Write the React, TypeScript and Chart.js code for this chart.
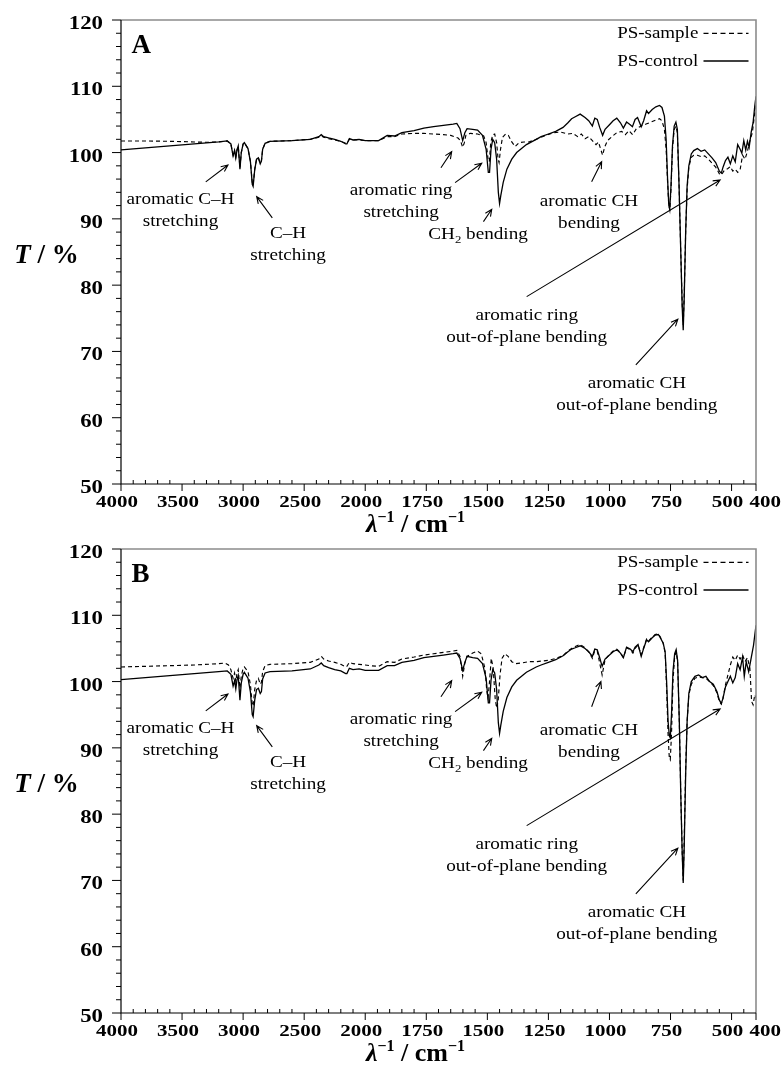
import React, { useEffect, useRef } from "react";
import { Chart, registerables } from "chart.js";

Chart.register(...registerables);

// ---------------- DATA ----------------
// x tick labels (wavenumber, cm-1) and y tick labels (T, %)
const X_TICK_VALUES = [4000, 3500, 3000, 2500, 2000, 1750, 1500, 1250, 1000, 750, 500, 400];
const Y_TICK_VALUES = [50, 60, 70, 80, 90, 100, 110, 120];

// Panel A: [wavenumber, T%]
const A_CONTROL: [number, number][] = [
  [4000, 100.4], [3800, 100.7], [3600, 101.0], [3400, 101.3], [3200, 101.6], [3130, 101.75], [3100, 101.3], [3090, 100.3], [3082, 99.5], [3070, 100.3],
  [3060, 99.2], [3050, 100.4], [3040, 101.0], [3026, 97.5], [3015, 100.0], [3000, 101.3], [2990, 101.5], [2960, 100.6], [2940, 98.6], [2925, 95.2],
  [2918, 94.9], [2905, 97.4], [2890, 99.0], [2875, 99.2], [2860, 98.3], [2850, 98.7], [2840, 100.5], [2820, 101.4], [2780, 101.7], [2600, 101.8],
  [2450, 102.0], [2380, 102.4], [2360, 102.7], [2340, 102.4], [2300, 102.2], [2250, 102.0], [2200, 101.7], [2160, 101.3], [2150, 101.3], [2130, 102.1],
  [2100, 101.9], [2050, 102.0], [2000, 101.8], [1980, 101.8], [1945, 101.8], [1910, 102.6], [1880, 102.5], [1850, 103.0], [1800, 103.3], [1760, 103.7],
  [1720, 103.9], [1680, 104.1], [1640, 104.3], [1625, 104.4], [1612, 103.6], [1601, 101.8], [1592, 103.0], [1583, 103.6], [1560, 103.5], [1540, 103.4],
  [1520, 102.6], [1505, 100.5], [1496, 97.0], [1491, 97.0], [1485, 100.5], [1478, 102.0], [1470, 101.5], [1462, 99.0], [1455, 94.0], [1450, 92.3],
  [1445, 93.5], [1435, 95.5], [1420, 97.5], [1400, 99.0], [1380, 100.0], [1360, 100.6], [1340, 101.2], [1300, 102.0], [1280, 102.4], [1250, 102.8],
  [1220, 103.2], [1190, 103.8], [1170, 104.5], [1155, 105.1], [1140, 105.4], [1120, 105.8], [1100, 105.3], [1085, 104.8], [1070, 104.0], [1060, 105.2],
  [1050, 105.0], [1040, 103.8], [1028, 102.6], [1018, 103.5], [1000, 104.2], [985, 104.8], [970, 105.2], [955, 104.5], [943, 103.7], [930, 104.6],
  [915, 104.2], [906, 103.9], [895, 105.0], [885, 105.3], [870, 103.9], [860, 104.8], [848, 106.3], [840, 105.9], [825, 106.5], [810, 106.9],
  [795, 107.1], [785, 106.8], [775, 105.5], [768, 102.0], [762, 96.0], [757, 92.0], [753, 91.6], [748, 95.0], [742, 101.0], [735, 104.0],
  [728, 104.6], [722, 103.5], [715, 95.0], [708, 85.0], [702, 76.5], [698, 73.2], [694, 78.0], [688, 88.0], [682, 95.0], [675, 98.0],
  [665, 99.8], [655, 100.3], [640, 100.6], [625, 100.2], [610, 100.4], [595, 99.8], [580, 99.2], [565, 98.5], [550, 97.2], [542, 96.9],
  [535, 97.8], [525, 98.8], [515, 99.3], [505, 98.3], [495, 99.5], [485, 98.6], [475, 101.2], [465, 100.5], [458, 99.9], [450, 101.8],
  [442, 100.4], [435, 101.7], [428, 100.8], [420, 103.0], [412, 104.5], [405, 107.0], [400, 108.5],
];

const A_SAMPLE: [number, number][] = [
  [4000, 101.75], [3800, 101.75], [3600, 101.7], [3400, 101.6], [3300, 101.55], [3200, 101.6], [3130, 101.75], [3100, 101.3], [3090, 100.3], [3082, 99.6],
  [3070, 100.3], [3060, 99.3], [3050, 100.4], [3040, 101.0], [3026, 97.7], [3015, 100.0], [3000, 101.3], [2990, 101.5], [2960, 100.6], [2940, 98.7],
  [2925, 95.4], [2918, 95.1], [2905, 97.5], [2890, 99.0], [2875, 99.2], [2860, 98.4], [2850, 98.8], [2840, 100.5], [2820, 101.4], [2780, 101.7],
  [2600, 101.8], [2450, 102.0], [2380, 102.3], [2360, 102.5], [2340, 102.3], [2300, 102.1], [2250, 101.9], [2200, 101.7], [2160, 101.4], [2150, 101.4],
  [2130, 102.0], [2100, 101.9], [2050, 101.9], [2000, 101.8], [1980, 101.8], [1945, 101.8], [1910, 102.4], [1880, 102.4], [1850, 102.8], [1800, 102.9],
  [1760, 102.9], [1720, 102.8], [1680, 102.7], [1650, 102.6], [1620, 102.2], [1610, 101.8], [1601, 100.8], [1594, 101.5], [1588, 102.6], [1570, 102.9],
  [1540, 102.8], [1515, 102.5], [1505, 101.5], [1497, 99.0], [1492, 98.6], [1486, 101.5], [1478, 102.7], [1470, 102.8], [1462, 101.5], [1456, 99.0],
  [1452, 98.5], [1446, 100.5], [1438, 102.3], [1425, 102.8], [1414, 102.6], [1400, 101.6], [1386, 100.9], [1370, 101.5], [1350, 101.6], [1330, 101.6],
  [1300, 102.0], [1260, 102.6], [1230, 103.0], [1200, 103.1], [1170, 102.8], [1150, 102.9], [1130, 102.4], [1115, 102.8], [1100, 102.1], [1085, 102.4],
  [1070, 101.8], [1055, 101.2], [1045, 101.6], [1035, 100.4], [1028, 99.6], [1020, 100.8], [1008, 101.8], [990, 102.4], [970, 103.0], [950, 103.2],
  [935, 102.7], [920, 103.3], [905, 102.7], [890, 103.6], [870, 104.0], [850, 104.3], [830, 104.6], [810, 104.9], [795, 105.1], [785, 104.8],
  [775, 103.5], [768, 100.5], [762, 95.5], [757, 92.0], [753, 91.3], [748, 94.5], [742, 100.5], [735, 103.5], [728, 104.0], [722, 103.0],
  [715, 95.0], [708, 85.0], [702, 77.0], [698, 74.0], [694, 78.5], [688, 88.0], [682, 94.5], [675, 97.8], [665, 99.3], [655, 99.6],
  [640, 99.6], [625, 99.4], [610, 99.5], [595, 99.0], [580, 98.4], [565, 97.8], [550, 96.8], [542, 96.6], [530, 97.3], [515, 97.6],
  [505, 97.9], [495, 97.2], [485, 97.5], [475, 97.0], [465, 97.4], [455, 99.6], [445, 99.0], [435, 100.2], [425, 101.8], [415, 103.0],
  [405, 106.0], [400, 108.0],
];

// Panel B: [wavenumber, T%]
const B_CONTROL: [number, number][] = [
  [4000, 100.3], [3800, 100.6], [3600, 100.9], [3400, 101.2], [3200, 101.5], [3130, 101.6], [3100, 101.1], [3090, 100.1], [3082, 99.3], [3070, 100.1],
  [3060, 98.9], [3050, 100.3], [3040, 100.9], [3026, 97.2], [3015, 99.8], [3000, 101.1], [2990, 101.4], [2960, 100.5], [2940, 98.4], [2925, 95.0],
  [2918, 94.7], [2905, 97.2], [2890, 98.8], [2875, 99.0], [2860, 98.2], [2850, 98.5], [2840, 100.4], [2820, 101.3], [2780, 101.5], [2600, 101.6],
  [2450, 101.9], [2380, 102.5], [2360, 102.8], [2340, 102.4], [2300, 102.1], [2250, 101.8], [2200, 101.6], [2160, 101.2], [2150, 101.2], [2130, 102.0],
  [2100, 101.8], [2050, 101.9], [2000, 101.7], [1980, 101.7], [1945, 101.7], [1910, 102.4], [1880, 102.4], [1850, 102.9], [1800, 103.2], [1760, 103.6],
  [1720, 103.8], [1680, 104.0], [1640, 104.2], [1625, 104.3], [1612, 103.5], [1601, 101.7], [1592, 102.9], [1583, 103.8], [1560, 103.6], [1540, 103.5],
  [1520, 102.7], [1505, 100.5], [1496, 96.8], [1491, 96.8], [1485, 100.2], [1478, 101.8], [1470, 101.3], [1462, 98.8], [1455, 93.8], [1450, 92.2],
  [1445, 93.4], [1435, 95.5], [1420, 97.6], [1400, 99.2], [1380, 100.2], [1360, 100.8], [1340, 101.4], [1300, 102.2], [1280, 102.5], [1250, 102.9],
  [1220, 103.3], [1190, 103.9], [1170, 104.5], [1155, 104.9], [1140, 105.1], [1120, 105.4], [1100, 105.0], [1085, 104.5], [1070, 103.8], [1060, 104.9],
  [1050, 104.8], [1040, 103.6], [1030, 102.3], [1018, 103.4], [1000, 104.0], [985, 104.5], [970, 104.8], [955, 104.3], [943, 103.6], [930, 105.2],
  [915, 104.9], [904, 104.5], [895, 105.2], [883, 105.6], [870, 103.8], [860, 105.0], [848, 106.3], [840, 106.0], [825, 106.6], [813, 107.0],
  [800, 107.1], [793, 106.7], [780, 105.8], [772, 104.5], [766, 100.0], [760, 94.0], [755, 91.8], [751, 91.5], [746, 95.0], [740, 101.5],
  [733, 104.2], [727, 104.8], [721, 103.2], [714, 94.0], [708, 83.0], [702, 74.0], [698, 69.6], [694, 75.0], [688, 86.0], [682, 94.0],
  [675, 98.2], [665, 100.0], [650, 100.8], [635, 101.0], [620, 100.6], [605, 100.8], [590, 100.0], [575, 99.6], [560, 98.5], [550, 97.2],
  [542, 96.7], [535, 97.5], [525, 99.2], [515, 100.0], [505, 100.8], [495, 99.8], [485, 100.6], [475, 102.7], [465, 101.8], [455, 103.7],
  [448, 100.8], [440, 103.0], [430, 101.5], [420, 103.5], [410, 105.5], [400, 108.5],
];

const B_SAMPLE: [number, number][] = [
  [4000, 102.2], [3800, 102.3], [3600, 102.4], [3400, 102.5], [3200, 102.7], [3150, 102.8], [3120, 102.5], [3100, 101.8], [3090, 101.0], [3082, 100.5],
  [3070, 101.3], [3060, 100.0], [3050, 101.3], [3040, 101.8], [3026, 99.0], [3015, 100.8], [3000, 102.0], [2990, 102.2], [2960, 101.5], [2940, 99.5],
  [2925, 96.5], [2918, 96.3], [2905, 98.8], [2890, 100.2], [2875, 100.5], [2860, 99.6], [2850, 99.9], [2840, 101.5], [2820, 102.4], [2780, 102.6],
  [2600, 102.7], [2450, 102.9], [2380, 103.4], [2360, 103.8], [2340, 103.4], [2300, 103.1], [2250, 102.9], [2200, 102.6], [2160, 102.2], [2150, 102.3],
  [2130, 102.9], [2100, 102.7], [2050, 102.6], [2000, 102.5], [1980, 102.4], [1945, 102.3], [1910, 103.0], [1880, 102.9], [1850, 103.4], [1800, 103.7],
  [1760, 104.0], [1720, 104.2], [1680, 104.4], [1640, 104.6], [1625, 104.7], [1612, 103.8], [1601, 100.8], [1592, 102.8], [1583, 103.8], [1560, 104.3],
  [1540, 104.6], [1525, 104.2], [1510, 102.0], [1502, 98.5], [1497, 97.5], [1490, 100.5], [1484, 103.5], [1476, 102.0], [1468, 97.5], [1462, 96.0],
  [1456, 97.0], [1448, 101.0], [1440, 103.5], [1428, 104.2], [1415, 103.8], [1400, 103.0], [1385, 102.7], [1360, 102.8], [1330, 103.0], [1300, 103.0],
  [1250, 103.2], [1220, 103.5], [1190, 103.9], [1170, 104.6], [1155, 105.0], [1140, 105.3], [1120, 105.6], [1100, 105.1], [1085, 104.5], [1070, 103.5],
  [1060, 104.7], [1050, 104.6], [1040, 102.8], [1030, 101.0], [1018, 103.3], [1000, 104.1], [985, 104.6], [970, 104.9], [955, 104.4], [943, 103.6],
  [930, 105.1], [915, 104.8], [904, 104.3], [895, 105.0], [883, 105.5], [870, 104.0], [860, 105.1], [848, 106.4], [840, 106.1], [825, 106.7],
  [813, 107.1], [800, 107.2], [793, 106.8], [780, 105.8], [772, 104.3], [766, 99.0], [760, 92.0], [755, 88.5], [751, 88.2], [746, 92.0],
  [740, 100.0], [733, 103.8], [727, 104.5], [721, 103.0], [714, 94.0], [708, 83.0], [702, 74.0], [698, 70.0], [694, 76.0], [688, 87.0],
  [682, 94.0], [675, 98.0], [665, 99.6], [650, 100.5], [635, 100.7], [620, 100.6], [605, 100.5], [590, 100.0], [575, 99.4], [560, 98.3],
  [550, 97.0], [542, 96.6], [535, 97.5], [525, 99.5], [515, 101.0], [505, 102.5], [495, 103.7], [485, 103.2], [475, 104.0], [465, 103.4],
  [455, 104.0], [445, 103.0], [435, 103.6], [425, 102.0], [418, 97.0], [412, 96.5], [405, 98.0], [400, 97.5],
];

// Annotation labels: text lines anchored at [wavenumber, T] (centre of first line)
const LABEL_TEXTS = [
  ["aromatic C\u2013H", "stretching"],
  ["C\u2013H", "stretching"],
  ["aromatic ring", "stretching"],
  ["CH2 bending"],
  ["aromatic CH", "bending"],
  ["aromatic ring", "out-of-plane bending"],
  ["aromatic CH", "out-of-plane bending"],
];
const LABEL_ANCHORS: [number, number][] = [
  [3513, 93.0], [2632, 87.87], [1853, 94.46], [1538, 87.83], [1084, 92.7], [1339, 75.5], [888, 65.29],
];
// Arrows: [fromWn, fromT, toWn, toT]
const ARROWS_A: [number, number, number, number][] = [
  [3306, 95.57, 3124, 98.13],
  [2761, 90.14, 2889, 93.35],
  [1690, 97.72, 1646, 100.14],
  [1632, 95.46, 1523, 98.39],
  [1516, 89.58, 1482, 91.45],
  [1073, 95.61, 1032, 98.63],
  [1339, 78.27, 547, 95.87],
  [892, 67.96, 720, 74.86],
];
const ARROWS_B: [number, number, number, number][] = [
  [3306, 95.57, 3124, 98.13],
  [2761, 90.14, 2889, 93.35],
  [1690, 97.72, 1646, 100.14],
  [1632, 95.46, 1523, 98.39],
  [1516, 89.58, 1482, 91.45],
  [1073, 96.2, 1035, 100.0],
  [1339, 78.27, 547, 95.87],
  [892, 67.96, 720, 74.86],
];
const SERIES_NAMES = ["PS-sample", "PS-control"];

// ---------------- HELPERS ----------------
const SERIF = '"Liberation Serif", "Times New Roman", serif';

// broken wavenumber axis: 4000-2000 compressed 2x, 2000-400 full scale
function toAxis(w: number): number {
  return w >= 2000 ? (4000 - w) / 2 : 1000 + (2000 - w);
}

type Run = { t: string; font: string; dy?: number };

function drawRuns(ctx: CanvasRenderingContext2D, runs: Run[], x: number, y: number, align: "left" | "center" | "right", sx = 1) {
  ctx.save();
  ctx.textBaseline = "alphabetic";
  ctx.textAlign = "left";
  let total = 0;
  const widths = runs.map((r) => {
    ctx.font = r.font;
    const w = ctx.measureText(r.t).width;
    total += w;
    return w;
  });
  ctx.translate(x, y);
  ctx.scale(sx, 1);
  let cx = align === "left" ? 0 : align === "center" ? -total / 2 : -total;
  runs.forEach((r, i) => {
    ctx.font = r.font;
    ctx.fillText(r.t, cx, r.dy || 0);
    cx += widths[i];
  });
  ctx.restore();
}

function drawArrow(ctx: CanvasRenderingContext2D, x1: number, y1: number, x2: number, y2: number) {
  const a = Math.atan2(y2 - y1, x2 - x1);
  const L = 7.5;
  const sp = 0.42;
  ctx.beginPath();
  ctx.moveTo(x1, y1);
  ctx.lineTo(x2, y2);
  ctx.moveTo(x2 - L * Math.cos(a - sp), y2 - L * Math.sin(a - sp));
  ctx.lineTo(x2, y2);
  ctx.lineTo(x2 - L * Math.cos(a + sp), y2 - L * Math.sin(a + sp));
  ctx.stroke();
}

function makeFramePlugin(letter: string, arrows: [number, number, number, number][]) {
  return {
    id: "frame" + letter,
    afterDatasetsDraw(chart: any) {
      const ctx: CanvasRenderingContext2D = chart.ctx;
      const { left, right, top, bottom } = chart.chartArea;
      const xs = chart.scales.x;
      const ys = chart.scales.y;
      const px = (w: number) => xs.getPixelForValue(toAxis(w));
      const py = (t: number) => ys.getPixelForValue(t);
      ctx.save();
      ctx.fillStyle = "#000";
      ctx.strokeStyle = "#000";

      // frame: top/right grey, left/bottom black
      ctx.lineWidth = 1.6;
      ctx.strokeStyle = "#8c8c8c";
      ctx.beginPath();
      ctx.moveTo(left, top);
      ctx.lineTo(right, top);
      ctx.lineTo(right, bottom);
      ctx.stroke();
      ctx.strokeStyle = "#000";
      ctx.lineWidth = 1.2;
      ctx.beginPath();
      ctx.moveTo(left, top);
      ctx.lineTo(left, bottom);
      ctx.lineTo(right, bottom);
      ctx.stroke();

      // y ticks (outside, major every 10, minor every 2)
      ctx.lineWidth = 1;
      const yMin = Y_TICK_VALUES[0];
      const yMax = Y_TICK_VALUES[Y_TICK_VALUES.length - 1];
      for (let v = yMin; v <= yMax; v += 2) {
        const y = py(v);
        const major = Y_TICK_VALUES.includes(v);
        ctx.beginPath();
        ctx.moveTo(left, y);
        ctx.lineTo(left - (major ? 9 : 5), y);
        ctx.stroke();
      }
      // x ticks: majors down, minors up
      const xMax = X_TICK_VALUES[0];
      const xMin = X_TICK_VALUES[X_TICK_VALUES.length - 1];
      const minors: number[] = [];
      for (let w = xMax; w > 2000; w -= 100) minors.push(w);
      for (let w = 2000; w >= xMin; w -= 50) minors.push(w);
      minors.forEach((w) => {
        if (X_TICK_VALUES.includes(w)) return;
        const x = px(w);
        ctx.beginPath();
        ctx.moveTo(x, bottom);
        ctx.lineTo(x, bottom - 4);
        ctx.stroke();
      });
      X_TICK_VALUES.forEach((w) => {
        const x = px(w);
        ctx.beginPath();
        ctx.moveTo(x, bottom);
        ctx.lineTo(x, bottom + 7);
        ctx.stroke();
      });

      // tick labels
      const tickFontX = `bold 17.5px ${SERIF}`;
      const tickFontY = `bold 19px ${SERIF}`;
      X_TICK_VALUES.forEach((w, i) => {
        const x = px(w);
        if (i === X_TICK_VALUES.length - 1) {
          drawRuns(ctx, [{ t: String(w), font: tickFontX }], x - 6.5, bottom + 22.5, "left", 1.2);
        } else {
          drawRuns(ctx, [{ t: String(w), font: tickFontX }], x - 4, bottom + 22.5, "center", 1.2);
        }
      });
      Y_TICK_VALUES.forEach((v) => {
        drawRuns(ctx, [{ t: String(v), font: tickFontY }], left - 18, py(v) + 9, "right", 1.2);
      });

      // axis titles
      drawRuns(
        ctx,
        [
          { t: "T", font: `italic bold 27px ${SERIF}` },
          { t: " / %", font: `bold 27px ${SERIF}` },
        ],
        46.5,
        top + 243.3,
        "center",
        1
      );
      drawRuns(
        ctx,
        [
          { t: "\u03bb", font: `italic bold 26px ${SERIF}` },
          { t: "\u22121", font: `bold 16px ${SERIF}`, dy: -10 },
          { t: " / cm", font: `bold 26px ${SERIF}` },
          { t: "\u22121", font: `bold 16px ${SERIF}`, dy: -10 },
        ],
        (left + right) / 2 - 23,
        bottom + 48,
        "center",
        1
      );

      // panel letter
      drawRuns(ctx, [{ t: letter, font: `bold 27px ${SERIF}` }], left + 10.5, top + 33.3, "left", 1);

      // legend
      const legFont = `16.5px ${SERIF}`;
      drawRuns(ctx, [{ t: SERIES_NAMES[0], font: legFont }], right - 57.7, top + 18.3, "right", 1.15);
      drawRuns(ctx, [{ t: SERIES_NAMES[1], font: legFont }], right - 57.7, top + 45.7, "right", 1.15);
      ctx.lineWidth = 1.2;
      ctx.setLineDash([5, 3.5]);
      ctx.beginPath();
      ctx.moveTo(right - 52.5, top + 13.3);
      ctx.lineTo(right - 7.5, top + 13.3);
      ctx.stroke();
      ctx.setLineDash([]);
      ctx.lineWidth = 1.4;
      ctx.beginPath();
      ctx.moveTo(right - 52.5, top + 41);
      ctx.lineTo(right - 7.5, top + 41);
      ctx.stroke();

      // annotation labels
      const annFont = `16.5px ${SERIF}`;
      const subFont = `11px ${SERIF}`;
      LABEL_TEXTS.forEach((lines, i) => {
        const [w, t] = LABEL_ANCHORS[i];
        const x = px(w);
        const y = py(t) + 5.5;
        lines.forEach((line, j) => {
          const yy = y + j * 21.8;
          if (line.startsWith("CH2")) {
            drawRuns(
              ctx,
              [
                { t: "CH", font: annFont },
                { t: "2", font: subFont, dy: 4 },
                { t: line.slice(3), font: annFont },
              ],
              x,
              yy,
              "center",
              1.16
            );
          } else {
            drawRuns(ctx, [{ t: line, font: annFont }], x, yy, "center", 1.16);
          }
        });
      });

      // arrows
      ctx.lineWidth = 1.1;
      arrows.forEach(([w1, t1, w2, t2]) => {
        drawArrow(ctx, px(w1), py(t1), px(w2), py(t2));
      });

      ctx.restore();
    },
  };
}

type PanelProps = {
  top: number;
  height: number;
  padTop: number;
  padBottom: number;
  letter: string;
  control: [number, number][];
  sample: [number, number][];
  arrows: [number, number, number, number][];
};

function Panel({ top, height, padTop, padBottom, letter, control, sample, arrows }: PanelProps) {
  const ref = useRef<HTMLCanvasElement>(null);
  useEffect(() => {
    if (!ref.current) return;
    const chart = new Chart(ref.current, {
      type: "line",
      data: {
        datasets: [
          {
            label: SERIES_NAMES[1],
            data: control.map(([w, t]) => ({ x: toAxis(w), y: t })),
            borderColor: "#000",
            borderWidth: 1.3,
            pointRadius: 0,
            tension: 0,
            fill: false,
          },
          {
            label: SERIES_NAMES[0],
            data: sample.map(([w, t]) => ({ x: toAxis(w), y: t })),
            borderColor: "#000",
            borderWidth: 1.15,
            borderDash: [4, 3],
            pointRadius: 0,
            tension: 0,
            fill: false,
          },
        ],
      },
      options: {
        animation: false,
        responsive: true,
        maintainAspectRatio: false,
        events: [],
        layout: { padding: { left: 121, right: 28, top: padTop, bottom: padBottom } },
        scales: {
          x: { type: "linear", min: toAxis(X_TICK_VALUES[0]), max: toAxis(X_TICK_VALUES[X_TICK_VALUES.length - 1]), display: false },
          y: { type: "linear", min: Y_TICK_VALUES[0], max: Y_TICK_VALUES[Y_TICK_VALUES.length - 1], display: false },
        },
        plugins: { legend: { display: false }, tooltip: { enabled: false } },
      },
      plugins: [makeFramePlugin(letter, arrows)],
    } as any);
    return () => chart.destroy();
  }, []);
  return (
    <div style={{ position: "absolute", left: 0, top, width: 784, height }}>
      <canvas ref={ref} />
    </div>
  );
}

export default function App() {
  return (
    <div style={{ background: "#fff" }}>
      <Panel top={0} height={536} padTop={20} padBottom={52} letter="A" control={A_CONTROL} sample={A_SAMPLE} arrows={ARROWS_A} />
      <Panel top={536} height={537} padTop={13} padBottom={60} letter="B" control={B_CONTROL} sample={B_SAMPLE} arrows={ARROWS_B} />
    </div>
  );
}
